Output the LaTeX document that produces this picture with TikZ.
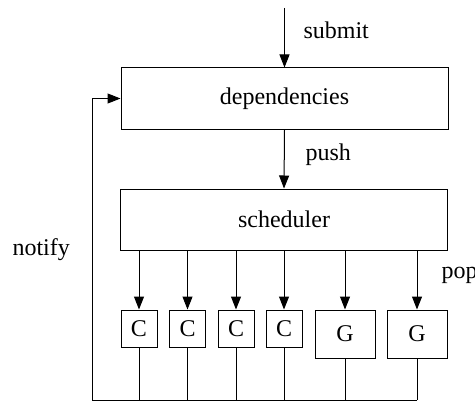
\documentclass[tikz,border=0pt]{standalone}
\usepackage{fontspec}
\setmainfont{Liberation Serif}
\usetikzlibrary{
  arrows.meta,
  positioning,
}
\tikzset{
  >={Triangle[length=6.5pt,width=5pt]},
}

\begin{document}
\begin{tikzpicture}[
      x=0.5pt, y=-0.5pt, line width=0.5pt,
      every node/.style={font=\fontsize{12}{14}\selectfont},
      box/.style={draw, rectangle, inner sep=0pt},
      stage/.style={box, minimum width=163.5pt, minimum height=30.5pt},
      cpu/.style={box, minimum width=18pt, minimum height=18.5pt},
      gpu/.style={box, minimum width=30pt, minimum height=24pt},
      tag/.style={inner sep=0pt, anchor=west},
    ]
      \useasboundingbox (0,0) rectangle (475,401);
      \node [stage] (deps) at (284.5,98.5) {dependencies};
      \node [stage] (sched) at (284,219.5) {scheduler};
      \node [cpu] (c1) at (139,328.5) {C};
      \node [cpu] (c2) at (187.5,328.5) {C};
      \node [cpu] (c3) at (236,328.5) {C};
      \node [cpu] (c4) at (284,328.5) {C};
      \node [gpu] (g1) at (345,334) {G};
      \node [gpu] (g2) at (417,334) {G};
      \coordinate (in) at (284.5,8);
      \coordinate (back) at (92,400);
      \node [tag] (submit) at (303,30) {submit};
      \node [tag] (push) at (305,155) {push};
      \node [tag] (notify) at (12,250) {notify};
      \node [tag] (pop) at (441,275) {pop};
      % flow down
      \draw [->] (in) -- (deps.north);
      \draw [->] (deps.south) -- (sched.north);
      \foreach \w in {c1,c2,c3,c4,g1,g2}
        \draw [->] (sched.south -| \w.north) -- (\w.north);
      % feedback
      \foreach \w in {c1,c2,c3,c4,g1,g2}
        \draw (\w.south) -- (\w.south |- back);
      \draw [->] (g2.south |- back) -- (back) |- (deps.west);
    \end{tikzpicture}
\end{document}
